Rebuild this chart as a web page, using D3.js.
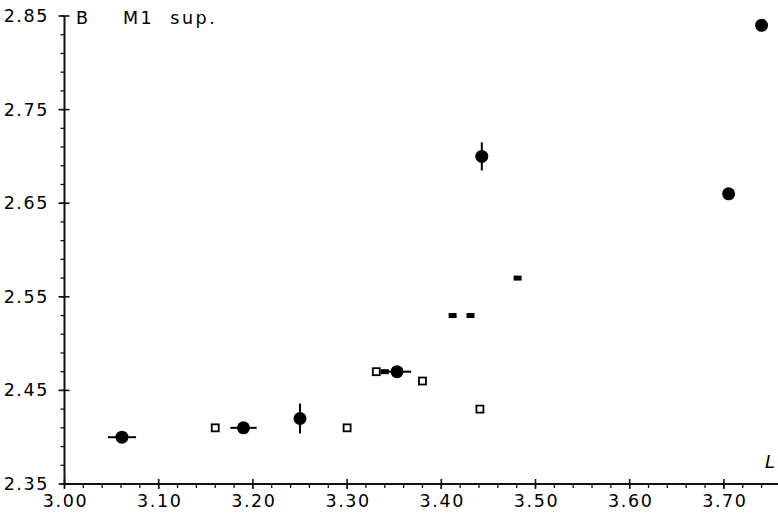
<!DOCTYPE html>
<html>
<head>
<meta charset="utf-8">
<script src="https://cdn.jsdelivr.net/npm/d3@7"></script>
<style>
  html, body { margin: 0; padding: 0; background: #fff; }
  svg { display: block; }
  text { font-family: "DejaVu Sans", sans-serif; fill: #000; }
</style>
</head>
<body>
<svg id="chart" width="778" height="524"></svg>
<script>
// Axis ticks
const xMajorTicks = [3.00, 3.10, 3.20, 3.30, 3.40, 3.50, 3.60, 3.70];
const yMajorTicks = [2.35, 2.45, 2.55, 2.65, 2.75, 2.85];

// Means with error bars (filled circles)
const circleX = [3.061, 3.19, 3.25, 3.353, 3.443, 3.705, 3.74];
const circleY = [2.40, 2.41, 2.42, 2.47, 2.70, 2.66, 2.84];
const circleErrX = [0.015, 0.014, 0, 0.015, 0, 0, 0];
const circleErrY = [0, 0, 0.016, 0, 0.015, 0, 0];

// Open squares
const squareX = [3.16, 3.30, 3.331, 3.38, 3.441];
const squareY = [2.41, 2.41, 2.47, 2.46, 2.43];

// Filled bars
const barX = [3.34, 3.412, 3.431, 3.481];
const barY = [2.47, 2.53, 2.53, 2.57];

const svg = d3.select("#chart");
const x = d3.scaleLinear().domain([3.00, 3.76]).range([64.5, 64.5 + 0.76 * 942]);
const y = d3.scaleLinear().domain([2.35, 2.85]).range([484, 16]);

const axisColor = "#111";

// Minor tick values every 0.02
const xMinor = d3.range(0, 38).map(i => +(3.00 + i * 0.02).toFixed(2)).filter(v => v <= 3.745);
const yMinor = d3.range(0, 26).map(i => +(2.35 + i * 0.02).toFixed(2)).filter(v => v <= 2.851);

// X axis
const gx = svg.append("g");
gx.append("line").attr("x1", x(3.00)).attr("x2", 778).attr("y1", y(2.35)).attr("y2", y(2.35))
  .attr("stroke", axisColor).attr("stroke-width", 2);
gx.selectAll("line.minor").data(xMinor).join("line").attr("class", "minor")
  .attr("x1", d => x(d)).attr("x2", d => x(d))
  .attr("y1", y(2.35)).attr("y2", y(2.35) + 4)
  .attr("stroke", axisColor).attr("stroke-width", 1.3);
gx.selectAll("line.major").data(xMajorTicks).join("line").attr("class", "major")
  .attr("x1", d => x(d)).attr("x2", d => x(d))
  .attr("y1", y(2.35) - 5).attr("y2", y(2.35) + 5)
  .attr("stroke", axisColor).attr("stroke-width", 1.6);
gx.selectAll("text").data(xMajorTicks).join("text")
  .attr("x", d => x(d) + 1).attr("y", 507)
  .attr("text-anchor", "middle")
  .attr("font-size", 17.5).attr("letter-spacing", 1.6)
  .text(d => d.toFixed(2));

// Y axis
const gy = svg.append("g");
gy.append("line").attr("x1", x(3.00)).attr("x2", x(3.00)).attr("y1", y(2.35)).attr("y2", y(2.85))
  .attr("stroke", axisColor).attr("stroke-width", 2);
gy.selectAll("line.minor").data(yMinor).join("line").attr("class", "minor")
  .attr("x1", x(3.00) - 4).attr("x2", x(3.00))
  .attr("y1", d => y(d)).attr("y2", d => y(d))
  .attr("stroke", axisColor).attr("stroke-width", 1.3);
gy.selectAll("line.major").data(yMajorTicks).join("line").attr("class", "major")
  .attr("x1", x(3.00) - 6).attr("x2", x(3.00) + 5)
  .attr("y1", d => y(d)).attr("y2", d => y(d))
  .attr("stroke", axisColor).attr("stroke-width", 1.6);
gy.selectAll("text").data(yMajorTicks).join("text")
  .attr("x", 49).attr("y", d => y(d) + 6)
  .attr("text-anchor", "end")
  .attr("font-size", 17.5).attr("letter-spacing", 1.6)
  .text(d => d.toFixed(2));

// Panel letter and title
svg.append("text").attr("x", 76).attr("y", 24).attr("font-size", 17.5).text("B");
svg.append("text").attr("x", 123).attr("y", 24).attr("font-size", 17.5)
  .attr("letter-spacing", 2.5).attr("xml:space", "preserve").text("M1  sup.");
// Axis name at the right end of the x axis
svg.append("text").attr("x", 765).attr("y", 468).attr("font-size", 18)
  .attr("font-style", "italic").text("L");

// Marks
const marks = svg.append("g");

// Error bars
const circles = circleX.map((v, i) => ({ x: v, y: circleY[i], ex: circleErrX[i], ey: circleErrY[i] }));
marks.selectAll("line.ex").data(circles.filter(d => d.ex > 0)).join("line").attr("class", "ex")
  .attr("x1", d => x(d.x - d.ex)).attr("x2", d => x(d.x + d.ex))
  .attr("y1", d => y(d.y)).attr("y2", d => y(d.y))
  .attr("stroke", "#000").attr("stroke-width", 2);
marks.selectAll("line.ey").data(circles.filter(d => d.ey > 0)).join("line").attr("class", "ey")
  .attr("x1", d => x(d.x)).attr("x2", d => x(d.x))
  .attr("y1", d => y(d.y - d.ey)).attr("y2", d => y(d.y + d.ey))
  .attr("stroke", "#000").attr("stroke-width", 2);

// Filled bars
marks.selectAll("rect.bar").data(barX.map((v, i) => ({ x: v, y: barY[i] }))).join("rect").attr("class", "bar")
  .attr("x", d => x(d.x) - 4).attr("y", d => y(d.y) - 2.5)
  .attr("width", 8).attr("height", 5).attr("fill", "#000");

// Open squares
marks.selectAll("rect.sq").data(squareX.map((v, i) => ({ x: v, y: squareY[i] }))).join("rect").attr("class", "sq")
  .attr("x", d => x(d.x) - 3.5).attr("y", d => y(d.y) - 3.5)
  .attr("width", 7).attr("height", 7)
  .attr("fill", "#fff").attr("stroke", "#000").attr("stroke-width", 1.8);

// Filled circles
marks.selectAll("circle").data(circles).join("circle")
  .attr("cx", d => x(d.x)).attr("cy", d => y(d.y)).attr("r", 6.5)
  .attr("fill", "#000");
</script>
</body>
</html>
